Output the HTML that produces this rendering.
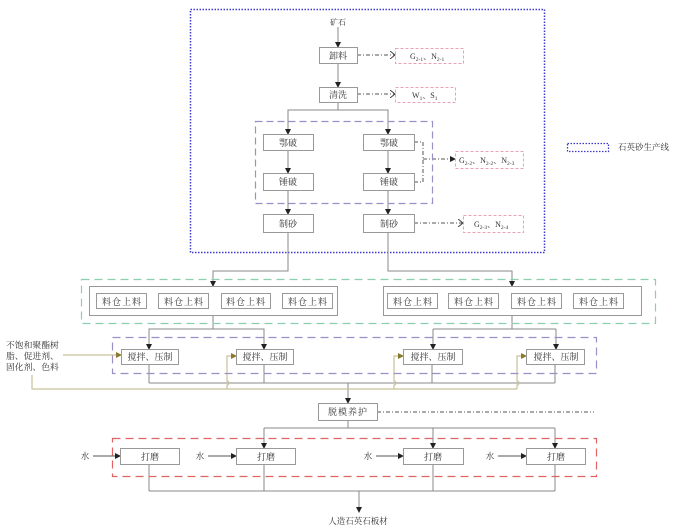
<!DOCTYPE html>
<html><head><meta charset="utf-8"><style>
html,body{margin:0;padding:0;background:#fff;}
svg{display:block;}
text{font-family:"Liberation Serif","Noto Serif CJK SC",serif;fill:#333;}
</style></head><body>
<svg width="674" height="531" viewBox="0 0 674 531" xmlns="http://www.w3.org/2000/svg">
<defs>
<marker id="a" markerWidth="6" markerHeight="6" refX="5" refY="3" orient="auto" markerUnits="userSpaceOnUse"><path d="M0,0 L6,3 L0,6 z" fill="#222"/></marker>
<marker id="o" markerWidth="6" markerHeight="6" refX="5" refY="3" orient="auto" markerUnits="userSpaceOnUse"><path d="M0,0 L6,3 L0,6 z" fill="#8a7a30"/></marker>
<marker id="v" markerWidth="6" markerHeight="8" refX="5" refY="4" orient="auto" markerUnits="userSpaceOnUse"><path d="M0,0 L5,4 L0,8" fill="none" stroke="#444" stroke-width="1"/></marker>
</defs>

<!-- blue dotted production line box -->
<rect x="190.5" y="9.5" width="354" height="243" fill="none" stroke="#3b3bc9" stroke-width="1.5" stroke-dasharray="1.5 1.5"/>
<rect x="567.5" y="143.5" width="41" height="8" fill="none" stroke="#3b3bc9" stroke-width="1.3" stroke-dasharray="1.5 1.5"/>
<text x="618" y="150" font-size="8.5">石英砂生产线</text>

<g fill="none" stroke="#888" stroke-width="1">
<!-- top flow -->
<line x1="338" y1="27" x2="338" y2="47" marker-end="url(#a)"/>
<line x1="338" y1="63" x2="338" y2="87" marker-end="url(#a)"/>
<polyline points="338,102 338,110"/>
<polyline points="288,134 288,110 388,110 388,134"/>
<line x1="288" y1="110" x2="288" y2="134" marker-end="url(#a)"/>
<line x1="388" y1="110" x2="388" y2="134" marker-end="url(#a)"/>
<line x1="288" y1="150" x2="288" y2="173" marker-end="url(#a)"/>
<line x1="388" y1="150" x2="388" y2="173" marker-end="url(#a)"/>
<line x1="288" y1="190" x2="288" y2="214" marker-end="url(#a)"/>
<line x1="388" y1="190" x2="388" y2="214" marker-end="url(#a)"/>
<!-- to feeding -->
<polyline points="288,232 288,271 213,271 213,286" marker-end="url(#a)"/>
<polyline points="388,232 388,271 512,271 512,286" marker-end="url(#a)"/>
<!-- feeding to mixing -->
<polyline points="213,315 213,329"/>
<polyline points="149,349 149,329 264,329 264,349"/>
<line x1="149" y1="329" x2="149" y2="349" marker-end="url(#a)"/>
<line x1="264" y1="329" x2="264" y2="349" marker-end="url(#a)"/>
<polyline points="512,315 512,329"/>
<polyline points="433,329 556,329"/>
<line x1="433" y1="329" x2="433" y2="349" marker-end="url(#a)"/>
<line x1="556" y1="329" x2="556" y2="349" marker-end="url(#a)"/>
<!-- mixing outputs -->
<line x1="149" y1="364" x2="149" y2="383"/>
<line x1="264" y1="364" x2="264" y2="383"/>
<line x1="432" y1="364" x2="432" y2="383"/>
<line x1="555" y1="364" x2="555" y2="383"/>
<line x1="149" y1="383" x2="555" y2="383"/>
<line x1="348" y1="383" x2="348" y2="403" marker-end="url(#a)"/>
<!-- demold to grinding -->
<line x1="348" y1="420" x2="348" y2="428"/>
<line x1="264" y1="428" x2="555" y2="428"/>
<line x1="264" y1="428" x2="264" y2="448" marker-end="url(#a)"/>
<line x1="433" y1="428" x2="433" y2="448" marker-end="url(#a)"/>
<line x1="555" y1="428" x2="555" y2="448" marker-end="url(#a)"/>
<!-- grinding outputs -->
<line x1="149" y1="464" x2="149" y2="491"/>
<line x1="264" y1="464" x2="264" y2="491"/>
<line x1="433" y1="464" x2="433" y2="491"/>
<line x1="555" y1="464" x2="555" y2="491"/>
<line x1="149" y1="491" x2="555" y2="491"/>
<line x1="359" y1="491" x2="359" y2="512" marker-end="url(#a)"/>
<!-- water arrows -->
<line x1="93" y1="456" x2="120" y2="456" stroke="#555" marker-end="url(#a)"/>
<line x1="208" y1="456" x2="236" y2="456" stroke="#555" marker-end="url(#a)"/>
<line x1="376" y1="456" x2="403" y2="456" stroke="#555" marker-end="url(#a)"/>
<line x1="498" y1="456" x2="526" y2="456" stroke="#555" marker-end="url(#a)"/>
</g>

<!-- dash-dot emission lines -->
<g fill="none" stroke="#555" stroke-width="1" stroke-dasharray="4 2 1 2">
<line x1="357" y1="55" x2="395" y2="55" marker-end="url(#v)"/>
<line x1="357" y1="94" x2="395" y2="94" marker-end="url(#v)"/>
<polyline points="414,142 423,142 423,182 414,182"/>
<line x1="423" y1="159" x2="455" y2="159" marker-end="url(#a)"/>
<line x1="414" y1="223" x2="463" y2="223" marker-end="url(#v)"/>
<line x1="377" y1="412" x2="594" y2="412"/>
</g>

<!-- olive additive lines -->
<g fill="none" stroke="#c8c29a" stroke-width="1.2">
<line x1="63" y1="355" x2="121" y2="355" marker-end="url(#o)"/>
<polyline points="32,375 32,389 517,389"/>
<path d="M227,389 L227,385 A2,2 0 0 0 227,381 L227,356 L236,356" marker-end="url(#o)"/>
<path d="M394,389 L394,385 A2,2 0 0 0 394,381 L394,356 L403,356" marker-end="url(#o)"/>
<path d="M517,389 L517,385 A2,2 0 0 0 517,381 L517,356 L526,356" marker-end="url(#o)"/>
</g>

<!-- dashed group boxes -->
<rect x="255.5" y="121.5" width="177" height="82" fill="none" stroke="#9c8fc6" stroke-width="1.2" stroke-dasharray="7 4"/>
<rect x="81.5" y="279.5" width="574" height="44" fill="none" stroke="#8ccfae" stroke-width="1.2" stroke-dasharray="8 5"/>
<rect x="112.5" y="337.5" width="484" height="36" fill="none" stroke="#9c8fc6" stroke-width="1.2" stroke-dasharray="8 5"/>
<rect x="112.5" y="438.5" width="484" height="38" fill="none" stroke="#e06464" stroke-width="1.2" stroke-dasharray="8 5"/>

<!-- pink emission boxes -->
<g fill="#fff" stroke="#e8a2b2" stroke-width="1" stroke-dasharray="3 2">
<rect x="395.5" y="48.5" width="68" height="15"/>
<rect x="395.5" y="87.5" width="60" height="15"/>
<rect x="455.5" y="151.5" width="68" height="17"/>
<rect x="463.5" y="215.5" width="60" height="17"/>
</g>
<g font-size="8">
<text x="410" y="59">G<tspan font-size="5.5" dy="2">2-1</tspan><tspan dy="-2">、N</tspan><tspan font-size="5.5" dy="2">2-1</tspan></text>
<text x="412" y="98">W<tspan font-size="5.5" dy="2">1</tspan><tspan dy="-2">、S</tspan><tspan font-size="5.5" dy="2">1</tspan></text>
<text x="459" y="163">G<tspan font-size="5.5" dy="2">2-2</tspan><tspan dy="-2">、N</tspan><tspan font-size="5.5" dy="2">2-2</tspan><tspan dy="-2">、N</tspan><tspan font-size="5.5" dy="2">2-3</tspan></text>
<text x="474" y="227">G<tspan font-size="5.5" dy="2">2-3</tspan><tspan dy="-2">、N</tspan><tspan font-size="5.5" dy="2">2-4</tspan></text>
</g>

<!-- process boxes -->
<g fill="#fff" stroke="#999" stroke-width="1">
<rect x="319.5" y="47.5" width="38" height="16"/>
<rect x="319.5" y="87.5" width="38" height="15"/>
<rect x="263.5" y="134.5" width="50" height="16"/>
<rect x="363.5" y="134.5" width="51" height="16"/>
<rect x="263.5" y="173.5" width="50" height="17"/>
<rect x="363.5" y="173.5" width="51" height="17"/>
<rect x="263.5" y="214.5" width="50" height="18"/>
<rect x="363.5" y="214.5" width="51" height="18"/>
<rect x="89.5" y="286.5" width="248" height="29"/>
<rect x="383.5" y="286.5" width="258" height="29"/>
<rect x="96.5" y="293.5" width="50" height="15"/>
<rect x="158.5" y="293.5" width="50" height="15"/>
<rect x="221.5" y="293.5" width="49" height="15"/>
<rect x="282.5" y="293.5" width="50" height="15"/>
<rect x="387.5" y="293.5" width="50" height="15"/>
<rect x="448.5" y="293.5" width="50" height="15"/>
<rect x="511.5" y="293.5" width="50" height="15"/>
<rect x="573.5" y="293.5" width="50" height="15"/>
<rect x="121.5" y="349.5" width="57" height="15"/>
<rect x="236.5" y="349.5" width="57" height="15"/>
<rect x="403.5" y="349.5" width="59" height="15"/>
<rect x="526.5" y="349.5" width="58" height="15"/>
<rect x="318.5" y="403.5" width="59" height="17"/>
<rect x="120.5" y="448.5" width="59" height="16"/>
<rect x="236.5" y="448.5" width="59" height="16"/>
<rect x="403.5" y="448.5" width="60" height="16"/>
<rect x="526.5" y="448.5" width="59" height="16"/>
</g>

<g font-size="9" text-anchor="middle">
<text x="338" y="25" font-size="8">矿石</text>
<text x="338" y="59">卸料</text>
<text x="338" y="98">清洗</text>
<text x="288" y="146">鄂破</text>
<text x="389" y="146">鄂破</text>
<text x="288" y="185">锤破</text>
<text x="389" y="185">锤破</text>
<text x="288" y="227">制砂</text>
<text x="389" y="227">制砂</text>
<g letter-spacing="1">
<text x="122" y="305">料仓上料</text>
<text x="184" y="305">料仓上料</text>
<text x="246" y="305">料仓上料</text>
<text x="308" y="305">料仓上料</text>
<text x="413" y="305">料仓上料</text>
<text x="474" y="305">料仓上料</text>
<text x="537" y="305">料仓上料</text>
<text x="599" y="305">料仓上料</text>
</g>
<text x="150" y="360">搅拌、压制</text>
<text x="265" y="360">搅拌、压制</text>
<text x="433" y="360">搅拌、压制</text>
<text x="556" y="360">搅拌、压制</text>
<text x="348" y="415" letter-spacing="1">脱模养护</text>
<text x="150" y="460">打磨</text>
<text x="266" y="460">打磨</text>
<text x="433" y="460">打磨</text>
<text x="556" y="460">打磨</text>
<text x="85" y="459" font-size="8.5">水</text>
<text x="200" y="459" font-size="8.5">水</text>
<text x="368" y="459" font-size="8.5">水</text>
<text x="490" y="459" font-size="8.5">水</text>
<text x="358" y="524" font-size="8.5">人造石英石板材</text>
</g>
<g font-size="8.8">
<text x="6" y="348">不饱和聚酯树</text>
<text x="6" y="359">脂、促进剂、</text>
<text x="6" y="370">固化剂、色料</text>
</g>
</svg>
</body></html>
